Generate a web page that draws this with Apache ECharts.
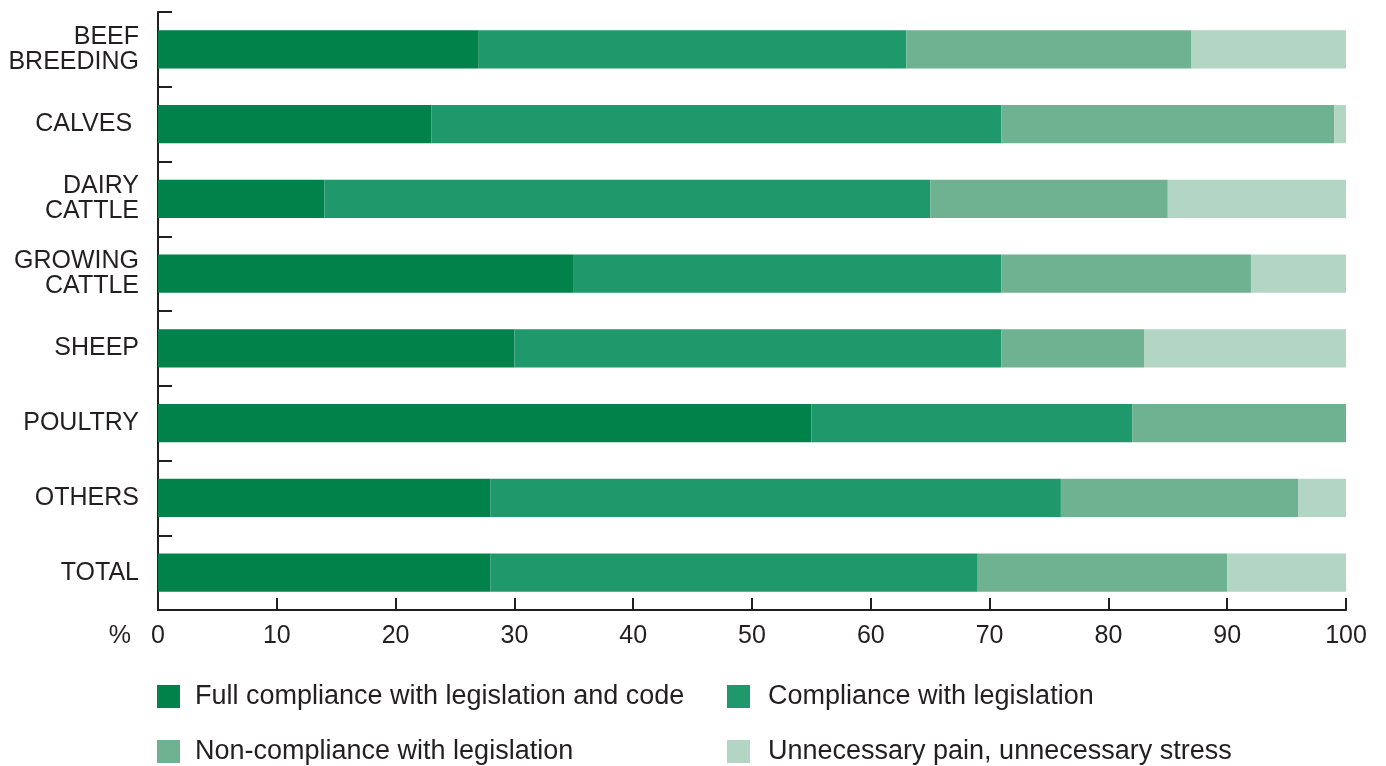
<!DOCTYPE html>
<html>
<head>
<meta charset="utf-8">
<script src="https://cdn.jsdelivr.net/npm/echarts@6/dist/echarts.min.js"></script>
<style>
  html, body { margin: 0; padding: 0; background: #ffffff; }
  #chart { width: 1386px; height: 766px; }
</style>
</head>
<body>
<div id="chart"></div>
<script>
// Animal welfare inspection results by livestock category (% of inspections)
const categories = ['BEEF\nBREEDING', 'CALVES ', 'DAIRY\nCATTLE', 'GROWING\nCATTLE', 'SHEEP', 'POULTRY', 'OTHERS', 'TOTAL'];
const fullCompliance = [27, 23, 14, 35, 30, 55, 28, 28];
const compliance     = [36, 48, 51, 36, 41, 27, 48, 41];
const nonCompliance  = [24, 28, 20, 21, 12, 18, 20, 21];
const unnecessary    = [13,  1, 15,  8, 17,  0,  4, 10];
const seriesNames = [
  'Full compliance with legislation and code',
  'Compliance with legislation',
  'Non-compliance with legislation',
  'Unnecessary pain, unnecessary stress'
];
const colors = ['#00824a', '#1f996c', '#6fb292', '#b3d5c3'];
const xTicks = [0, 10, 20, 30, 40, 50, 60, 70, 80, 90, 100];

const ink = '#231f20';
const font = 'Liberation Sans, Arial, Helvetica, sans-serif';
const values = [fullCompliance, compliance, nonCompliance, unnecessary];

// legend laid out as a 2 x 2 grid: one legend component per entry
const legendSlots = [
  { left: 157, top: 683, gap: 10 },
  { left: 727, top: 683, gap: 13 },
  { left: 157, top: 738, gap: 10 },
  { left: 727, top: 738, gap: 13 }
];

const chart = echarts.init(document.getElementById('chart'), null, { renderer: 'canvas' });

chart.setOption({
  animation: false,
  backgroundColor: '#ffffff',
  grid: { left: 158, right: 40, top: 12, bottom: 156, containLabel: false },
  legend: seriesNames.map((name, i) => ({
    data: [name],
    left: legendSlots[i].left, top: legendSlots[i].top,
    padding: 0,
    itemWidth: 23, itemHeight: 23,
    icon: 'rect', selectedMode: false,
    textStyle: { color: ink, fontSize: 27, fontFamily: font, padding: [0, 0, 0, legendSlots[i].gap] }
  })),
  xAxis: {
    type: 'value', min: 0, max: 100, interval: 10,
    name: '%', nameLocation: 'start', nameGap: 27,
    nameTextStyle: { color: ink, fontSize: 25, fontFamily: font, verticalAlign: 'top', padding: [14, 0, 0, 0] },
    axisLine: { show: true, lineStyle: { color: ink, width: 2 } },
    axisTick: { show: true, inside: true, length: 12, lineStyle: { color: ink, width: 2 } },
    axisLabel: {
      color: ink, fontSize: 25, fontFamily: font, margin: 14,
      formatter: v => xTicks.includes(v) ? String(v) : ''
    },
    splitLine: { show: false }
  },
  yAxis: {
    type: 'category', data: categories, inverse: true,
    axisLine: { show: true, lineStyle: { color: ink, width: 2 } },
    axisTick: { show: true, inside: true, length: 14, lineStyle: { color: ink, width: 2 } },
    axisLabel: { color: ink, fontSize: 25, fontFamily: font, margin: 19, lineHeight: 25, align: 'right' }
  },
  series: seriesNames.map((name, i) => ({
    name, type: 'bar', stack: 'total',
    barWidth: '51%',
    legendHoverLink: false,
    itemStyle: { color: colors[i] },
    data: values[i]
  }))
});
</script>
</body>
</html>
